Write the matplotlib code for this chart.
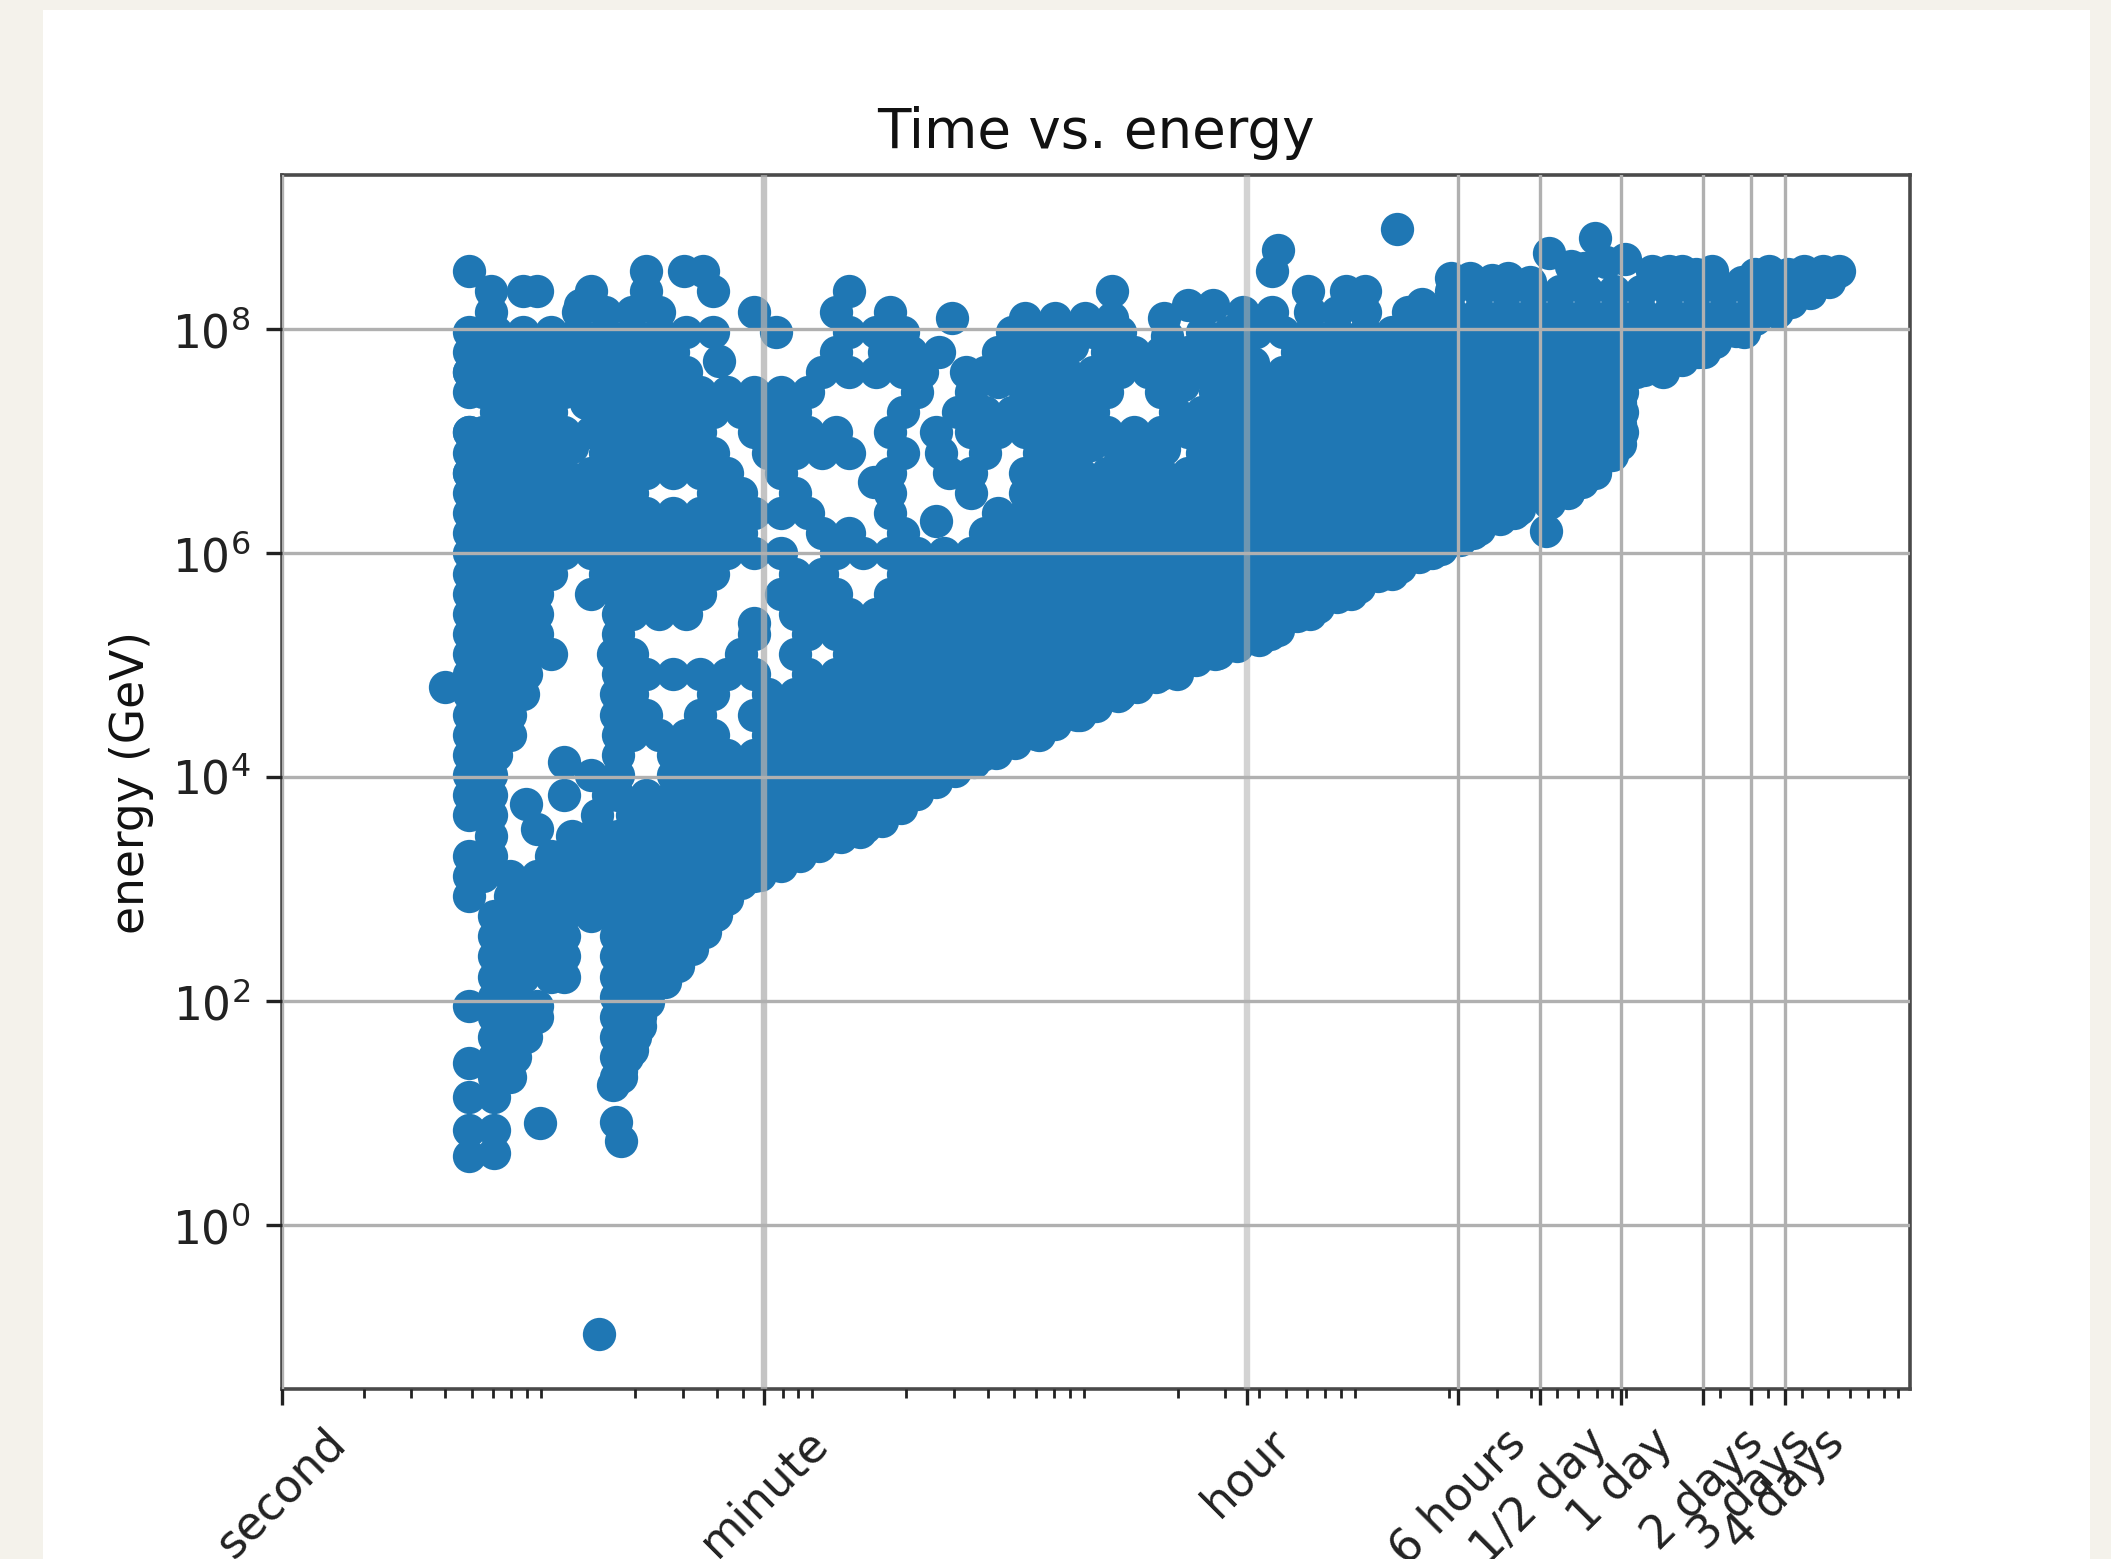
import matplotlib
matplotlib.use("Agg")
import matplotlib.pyplot as plt
from matplotlib.patches import Rectangle
from matplotlib.ticker import NullLocator, LogLocator, NullFormatter

TITLE = "Time vs. energy"
YLABEL = "energy (GeV)"
tick_seconds = [1, 60, 3600, 21600, 43200, 86400, 172800, 259200, 345600]
tick_names = ["second", "minute", "hour", "6 hours", "1/2 day", "1 day", "2 days", "3 days", "4 days"]
energy_ticks = [1e0, 1e2, 1e4, 1e6, 1e8]

# values, in hundredths of a decade: log10(energy) per row, log10(seconds) per point
energy_rows = [834, 816, 810, 822, 798, 780, 762, 744, 726, 708, 690, 672, 654, 636, 618, 600, 582, 564, 546, 528,
               510, 492, 474, 456, 438, 420, 402, 384, 366, 348, 330, 312, 294, 276, 258, 240, 222, 204, 196, 186,
               168, 150, 132]
time_rows = [
 [77,89,94,114,134,159,209,306,378,392,399,431,441,451,461,471,481,491,501,511,521,531,541,551,561],
 [77,109,119,129,139,174,204,224,354,365,379,389,399,415,424,431,441,451,461,471,481,491,501,511,521,531,541,551],
 [247,274,285,296,306,325],
 [110,334,343],
 [69,79,89,99,109,119,129,139,149,159,182,209,219,229,269,279,289,299,309,339,349,359,369,379,389,399,409,419,429,439,449,459,469,479,489,499,509,519,529,539],
 [69,74,84,94,104,114,124,134,144,204,222,232,242,264,274,284,304,314,324,334,344,354,374,384,394,404,414,424,434,444,454,464,474,484,494,504,514,524],
 [69,79,89,99,109,119,129,139,149,199,209,219,229,236,252,259,269,279,289,299,309,319,329,339,349,359,369,379,389,399,409,419,429,439,449,459,469,479,489,499,509],
 [69,74,84,94,104,114,124,134,144,154,164,174,184,194,234,254,274,284,294,304,324,344,354,364,374,384,394,404,414,424,434,444,454,464,474,484,494],
 [79,89,99,119,129,139,149,159,169,179,189,229,249,259,269,279,289,299,329,339,349,359,369,379,389,399,409,419,429,439,449,459,469,479,489,494],
 [69,74,84,94,104,114,124,134,144,154,174,184,194,204,224,241,254,264,274,284,294,304,314,324,334,344,354,364,374,384,394,404,414,424,434,444,454,464,474,484,494],
 [69,79,89,99,119,129,139,149,159,179,189,199,209,229,243,259,279,289,309,319,339,349,359,369,379,389,399,409,419,429,439,449,459,469,479,489],
 [69,74,84,94,104,114,124,134,144,154,164,184,224,246,254,274,284,294,304,314,324,334,344,354,364,374,384,394,404,414,424,434,444,454,464,474,484],
 [69,79,89,99,109,119,129,159,169,189,224,254,274,279,289,299,309,319,329,339,349,359,369,379,389,399,409,419,429,439,449,459,469,474],
 [69,74,84,94,104,114,124,134,144,154,164,174,184,194,224,264,274,284,294,304,314,324,334,344,354,364,374,384,394,404,414,424,434,444,454],
 [69,79,89,99,109,119,129,139,149,159,169,199,209,229,259,269,279,289,299,309,319,329,339,349,359,369,379,389,399,409,419,429,439],
 [69,74,84,94,104,114,124,134,144,154,164,174,184,204,214,224,234,244,254,264,274,284,294,304,314,324,334,344,354,364,374,384,394,404,414,424],
 [69,79,89,99,119,129,139,149,159,189,199,229,239,249,259,269,279,289,299,309,319,329,339,349,359,369,379,389,399,409],
 [69,74,84,94,114,124,134,144,154,184,194,204,224,234,244,254,264,274,284,294,304,314,324,334,344,354,364,374,384,394],
 [69,79,89,94,124,129,139,149,189,199,209,219,229,239,249,259,269,279,289,299,309,319,329,339,349,359,369,379],
 [69,74,84,94,124,174,194,204,214,224,234,244,254,264,274,284,294,304,314,324,334,344,354,364],
 [69,79,89,99,122,129,169,189,209,219,229,239,249,259,269,279,289,299,309,319,329,339,344],
 [69,74,84,90,124,134,144,154,164,174,194,204,214,224,234,244,254,264,274,284,294,304,314,324,330],
 [69,79,89,123,129,159,179,189,199,209,219,229,239,249,259,269,279,289,299,309],
 [69,74,84,123,134,154,174,184,194,204,214,224,234,244,254,264,274,284,294],
 [69,79,84,124,129,139,149,159,179,189,199,209,219,229,239,249,259,269,279],
 [69,74,79,124,144,154,164,174,184,194,204,214,224,234,244,254,258],
 [69,77,114,124,144,149,159,169,179,189,199,209,219,229,239],
 [69,77,104,120,124,134,144,154,164,174,184,194,204,214,224,228],
 [69,77,116,129,139,149,159,169,179,189,199,209,219],
 [77,107,114,124,134,144,154,164,174,184,194,204],
 [69,77,99,109,119,129,139,149,159,169,179,184],
 [69,74,84,94,104,114,124,134,144,154,164,174],
 [69,84,89,99,109,119,129,139,149,159,161],
 [78,84,94,104,114,124,134,144,154,156],
 [78,89,99,104,123,129,139,149,151],
 [78,84,94,104,123,134,144,146],
 [78,89,99,104,123,129,139],
 [78,84,123,133],
 [69,79,89,94],
 [78,84,94,123,132],
 [78,84,90,123,130],
 [78,86,123,127],
 [78,84,123,125],
]
other_times = [60,117,411,466,241,174,104,90,94,215,161,367,365,484,467,495,431,438,452,69,134,148,155,505,516,527,548,561,574,69,122,69,78,69,78,69,78,95,123,125]
other_energies = [481,-97,890,620,629,538,414,376,354,356,772,871,852,882,868,863,846,846,846,852,852,852,852,852,852,852,852,852,852,145,125,114,114,85,85,62,64,91,92,75]

# points along the lower edge of the cloud
edge_times = [570,563,556,550,543,536,528,522,516,510,502,495,493,493,493,490,484,479,474,467,456,449,441,434,427,419,412,404,397,389,382,374,367,360,352,345,337,330,322,315,308,300,293,285,278,270,263,255,248,241,234,228,221,213,206,198,191,184,176,169,164,160,156,151,146,141,135,132,129,125]
edge_energies = [842,833,825,821,809,799,789,780,773,768,764,762,734,716,698,688,674,664,655,645,640,631,622,612,604,597,588,580,570,561,552,544,532,523,517,511,505,498,490,481,473,464,456,448,439,431,422,414,406,396,385,373,361,351,347,339,330,321,313,306,291,277,262,247,231,217,199,178,156,138]

# points along the upper edge of the cloud, right of the hour line
crest_times = [446,460,475,480,488,511,521,538,543,555,568,420,69,69,69]
crest_energies = [844,842,857,855,860,852,850,842,850,850,852,823,762,708,672]

# points beside the small gaps in the cloud
gap_times = [112,107,291,326,264,332,298,325,358,218]
gap_energies = [734,695,785,794,753,750,697,693,770,664]

log_t = [t for row in time_rows for t in row] + other_times + edge_times + crest_times + gap_times
log_e = [e for e, row in zip(energy_rows, time_rows) for _ in row] + other_energies + edge_energies + crest_energies + gap_energies
seconds = [10 ** (t / 100) for t in log_t]
energy = [10 ** (e / 100) for e in log_e]

W, H = 2111, 1559
fig = plt.figure(figsize=(W / 100, H / 100), dpi=100, facecolor="#f4f2eb")
fig.add_artist(Rectangle((43 / W, 0), (2090 - 43) / W, 1 - 10 / H, transform=fig.transFigure,
                         facecolor="white", edgecolor="none", zorder=-5))
ax = fig.add_axes([282 / W, 1 - 1389 / H, (1910 - 282) / W, (1389 - 175) / H])
ax.set_facecolor("white")
ax.scatter(seconds, energy, s=575, color="#1f77b4", linewidths=0, zorder=1.5)
ax.set_xscale("log")
ax.set_yscale("log")
ax.set_xlim(1, 1e6)
ax.set_ylim(10 ** -1.464, 10 ** 9.38)
ax.set_xticks(tick_seconds)
ax.set_xticklabels(tick_names, rotation=45, fontsize=32.8)
ax.xaxis.set_minor_locator(LogLocator(base=10, subs=range(2, 10), numticks=20))
ax.xaxis.set_minor_formatter(NullFormatter())
ax.set_yticks(energy_ticks)
ax.yaxis.set_minor_locator(NullLocator())
ax.tick_params(axis="both", which="major", length=11.5, width=2.4, labelsize=32.8, pad=11, color="#222222")
ax.tick_params(axis="x", which="minor", length=6.6, width=2.0, color="#222222")
ax.set_axisbelow(False)
ax.grid(True, which="major", color="#b0b0b0", linewidth=2.4, zorder=2.5)
xgrid = ax.get_xgridlines()
for i, line in enumerate(xgrid):
    if i in (1, 2):
        line.set_linewidth(4.6)
        line.set_alpha(0.55 if i == 2 else 0.75)
for s in ax.spines.values():
    s.set_linewidth(2.6)
    s.set_color("#4a4a4a")
ax.set_title(TITLE, fontsize=39.4, pad=19.7, color="#111111")
ax.set_ylabel(YLABEL, fontsize=32.8, labelpad=13, color="#111111")
ax.tick_params(labelcolor="#222222")
fig.savefig("out.png", dpi=100, facecolor=fig.get_facecolor())
